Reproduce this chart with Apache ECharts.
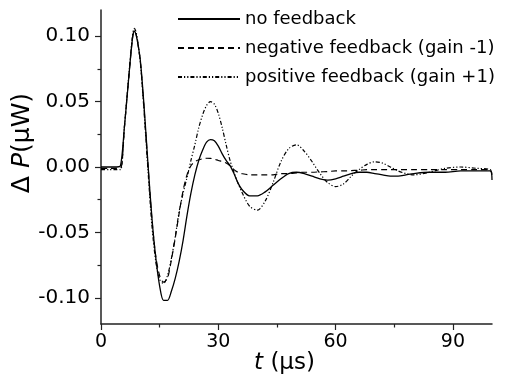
<!DOCTYPE html>
<html>
<head>
<meta charset="utf-8">
<script src="https://cdn.jsdelivr.net/npm/echarts@6/dist/echarts.min.js"></script>
<style>
  html, body { margin: 0; background: #fff; }
  #chart { width: 522px; height: 377px; }
</style>
</head>
<body>
<div id="chart"></div>
<script>
// time in microseconds
const times = [0, 2, 4, 5, 6, 7, 8, 8.5, 9, 10, 11, 12, 13, 14, 15, 16, 17, 18, 19, 20, 21, 22, 23, 24, 25, 26, 27, 28, 29, 30,
  31, 32, 33, 34, 35, 36, 38, 40, 42, 44, 46, 48, 50, 52, 54, 56, 58, 60, 62, 64, 66, 68, 70, 72, 74, 76, 78, 80,
  84, 88, 92, 96, 99.5, 100];

// delta P in microwatts
const noFeedback = [0, 0, 0, 0.001, 0.031, 0.065, 0.097, 0.104, 0.101, 0.083, 0.047, 0.003, -0.038, -0.069, -0.091, -0.102, -0.102,
  -0.095, -0.085, -0.072, -0.056, -0.037, -0.02, -0.006, 0.005, 0.013, 0.019, 0.021, 0.02, 0.016,
  0.01, 0.005, 0.001, -0.005, -0.012, -0.017, -0.022, -0.022, -0.019, -0.014, -0.009, -0.005, -0.004, -0.005, -0.007,
  -0.009, -0.01, -0.009, -0.007, -0.005, -0.004, -0.004, -0.005, -0.006, -0.007, -0.007, -0.006, -0.005,
  -0.004, -0.004, -0.003, -0.003, -0.003, -0.01];

const negativeFeedback = [-0.001, -0.001, -0.001, -0.001, 0.031, 0.065, 0.097, 0.104, 0.101, 0.082, 0.045, 0.002, -0.039, -0.068,
  -0.083, -0.088, -0.085, -0.071, -0.054, -0.035, -0.018, -0.006, 0.001, 0.004, 0.0055, 0.0063, 0.0067, 0.0066, 0.006,
  0.005, 0.0042, 0.003, 0.001, -0.002, -0.004, -0.005, -0.006, -0.006, -0.006, -0.006, -0.005, -0.005, -0.0045, -0.004,
  -0.004, -0.0037, -0.0035, -0.003, -0.003, -0.0027, -0.0025, -0.002, -0.002, -0.002, -0.002, -0.002, -0.002, -0.002,
  -0.002, -0.002, -0.002, -0.002, -0.002, -0.006];

const positiveFeedback = [-0.002, -0.002, -0.002, -0.002, 0.031, 0.066, 0.099, 0.106, 0.103, 0.082, 0.043, -0.002, -0.044, -0.072,
  -0.086, -0.089, -0.083, -0.07, -0.053, -0.034, -0.02, -0.008, 0.005, 0.017, 0.03, 0.04, 0.047, 0.05, 0.048, 0.041,
  0.03, 0.017, 0.005, -0.004, -0.012, -0.019, -0.03, -0.033, -0.026, -0.012, 0.004, 0.014, 0.017, 0.012, 0.004,
  -0.005, -0.012, -0.015, -0.013, -0.007, -0.002, 0.002, 0.004, 0.003, 0.0, -0.003, -0.005, -0.006,
  -0.004, -0.001, 0.0, -0.001, -0.002, -0.006];

const xMajorTicks = [0, 30, 60, 90];
const xMinorTicks = [15, 45, 75];
const yMajorTicks = [-0.1, -0.05, 0, 0.05, 0.1];
const yMinorTicks = [-0.075, -0.025, 0.025, 0.075];

const font = "DejaVu Sans";
const ink = "#000";
const axisInk = "#222";

const pairs = (vals) => times.map((t, i) => [t, vals[i]]);

const chart = echarts.init(document.getElementById("chart"));

const lineSeries = (name, vals, type, width) => ({
  type: "line",
  name: name,
  data: pairs(vals),
  xAxisIndex: 0,
  yAxisIndex: 0,
  symbol: "none",
  smooth: 0.3,
  animation: false,
  itemStyle: { color: ink },
  lineStyle: { color: ink, width: width, type: type },
});

chart.setOption({
  animation: false,
  grid: { left: 101, right: 30, top: 10, bottom: 53, outerBoundsMode: "none" },
  legend: {
    orient: "vertical",
    left: 172,
    top: 5,
    itemWidth: 62,
    itemHeight: 18,
    itemGap: 11,
    itemStyle: { opacity: 0 },
    textStyle: { fontFamily: font, fontSize: 18, color: ink },
    data: ["no feedback", "negative feedback (gain -1)", "positive feedback (gain +1)"],
  },
  xAxis: [
    {
      type: "value",
      min: 0,
      max: 100,
      axisLine: { onZero: false, lineStyle: { color: axisInk, width: 1.5 } },
      axisTick: { customValues: xMajorTicks, length: 6, lineStyle: { color: axisInk, width: 1.2 } },
      axisLabel: { customValues: xMajorTicks, fontFamily: font, fontSize: 19, color: ink, margin: 9 },
      splitLine: { show: false },
      name: "{i|t}{d| (μs)}",
      nameLocation: "middle",
      nameGap: 28,
      nameMoveOverlap: false,
      nameTextStyle: {
        padding: [0, 24, 0, 0],
        rich: {
          i: { fontFamily: font, fontSize: 23, fontStyle: "italic", color: ink },
          d: { fontFamily: font, fontSize: 23, color: ink },
        },
      },
    },
    {
      type: "value",
      min: 0,
      max: 100,
      position: "bottom",
      axisLine: { show: false, onZero: false },
      axisTick: { customValues: xMinorTicks, length: 3.5, lineStyle: { color: axisInk, width: 1.2 } },
      axisLabel: { show: false },
      splitLine: { show: false },
    },
  ],
  yAxis: [
    {
      type: "value",
      min: -0.12,
      max: 0.12,
      axisLine: { show: true, onZero: false, lineStyle: { color: axisInk, width: 1.5 } },
      axisTick: { show: true, customValues: yMajorTicks, length: 6, lineStyle: { color: axisInk, width: 1.2 } },
      axisLabel: {
        customValues: yMajorTicks,
        fontFamily: font,
        fontSize: 20,
        color: ink,
        margin: 11,
        formatter: (v) => v.toFixed(2),
      },
      splitLine: { show: false },
      name: "{d|Δ }{i|P}{d|(μW)}",
      nameLocation: "middle",
      nameGap: 66,
      nameMoveOverlap: false,
      nameTextStyle: {
        padding: [0, 0, 0, 48],
        rich: {
          i: { fontFamily: font, fontSize: 25, fontStyle: "italic", color: ink },
          d: { fontFamily: font, fontSize: 25, color: ink },
        },
      },
    },
    {
      type: "value",
      min: -0.12,
      max: 0.12,
      position: "left",
      axisLine: { show: false, onZero: false },
      axisTick: { show: true, customValues: yMinorTicks, length: 3.5, lineStyle: { color: axisInk, width: 1.2 } },
      axisLabel: { show: false },
      splitLine: { show: false },
    },
  ],
  series: [
    lineSeries("no feedback", noFeedback, "solid", 1.3),
    lineSeries("negative feedback (gain -1)", negativeFeedback, [6, 4], 1.2),
    lineSeries("positive feedback (gain +1)", positiveFeedback, [4, 2, 1.2, 2, 1.2, 2], 1.2),
  ],
});
</script>
</body>
</html>
